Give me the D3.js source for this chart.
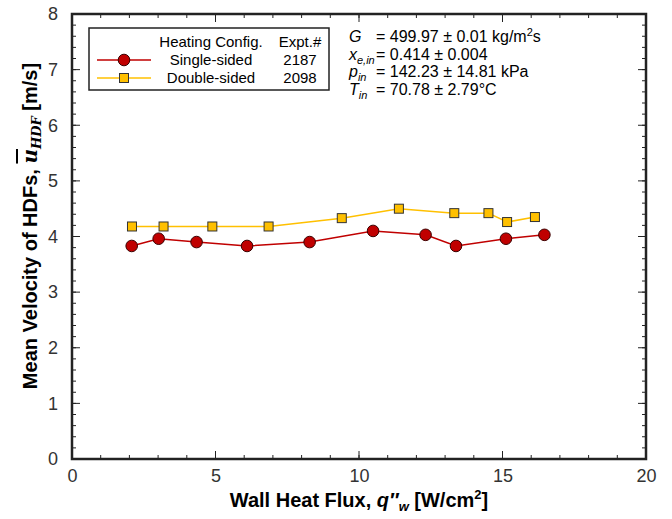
<!DOCTYPE html>
<html>
<head>
<meta charset="utf-8">
<script src="https://cdn.jsdelivr.net/npm/d3@7"></script>
<style>
  body { margin: 0; background: #fff; }
  text { font-family: "Liberation Sans", Arial, sans-serif; }
</style>
</head>
<body>
<div id="chart"></div>
<script>
// data
const singleFlux = [2.08, 3.02, 4.34, 6.10, 8.28, 10.49, 12.32, 13.38, 15.12, 16.46];
const singleVel  = [3.83, 3.96, 3.90, 3.83, 3.90, 4.10, 4.03, 3.83, 3.96, 4.03];
const doubleFlux = [2.09, 3.19, 4.89, 6.85, 9.40, 11.39, 13.32, 14.51, 15.16, 16.13];
const doubleVel  = [4.18, 4.18, 4.18, 4.18, 4.33, 4.50, 4.42, 4.42, 4.26, 4.35];
const xTicks = [0, 5, 10, 15, 20];
const yTicks = [0, 1, 2, 3, 4, 5, 6, 7, 8];
const legendRows = [
  {name: "Single-sided", expt: "2187"},
  {name: "Double-sided", expt: "2098"}
];

const W = 672, H = 519;
const margin = {top: 14, right: 26, bottom: 60, left: 72};
const width = W - margin.left - margin.right;
const height = H - margin.top - margin.bottom;

const svg = d3.select("#chart").append("svg")
    .attr("width", W)
    .attr("height", H);
const g = svg.append("g")
    .attr("transform", `translate(${margin.left},${margin.top})`);

const x = d3.scaleLinear().domain([0, 20]).range([0, width]);
const y = d3.scaleLinear().domain([0, 8]).range([height, 0]);

// minor + major ticks on all four sides, pointing inward
const xMinor = d3.range(0, 20.01, 1);
const yMinor = d3.range(0, 8.001, 0.2);

function tickSet(cls, vals, isX, len) {
  const sel = g.append("g").attr("class", cls).attr("stroke", "#222").attr("stroke-width", 1);
  vals.forEach(v => {
    if (isX) {
      sel.append("line").attr("x1", x(v)).attr("x2", x(v)).attr("y1", height).attr("y2", height - len);
      sel.append("line").attr("x1", x(v)).attr("x2", x(v)).attr("y1", 0).attr("y2", len);
    } else {
      sel.append("line").attr("y1", y(v)).attr("y2", y(v)).attr("x1", 0).attr("x2", len);
      sel.append("line").attr("y1", y(v)).attr("y2", y(v)).attr("x1", width).attr("x2", width - len);
    }
  });
}
tickSet("xminor", xMinor, true, 4);
tickSet("xmajor", xTicks, true, 8);
tickSet("yminor", yMinor, false, 4);
tickSet("ymajor", yTicks, false, 8);

// tick labels via axes (tick lines hidden)
const xAxis = g.append("g")
    .attr("transform", `translate(0,${height})`)
    .call(d3.axisBottom(x).tickValues(xTicks).tickSize(0).tickPadding(10));
const yAxis = g.append("g")
    .call(d3.axisLeft(y).tickValues(yTicks).tickSize(0).tickPadding(14));
[xAxis, yAxis].forEach(a => {
  a.select(".domain").remove();
  a.selectAll("text")
    .style("font-family", "'Liberation Sans Narrow', 'Liberation Sans', Arial, sans-serif")
    .style("font-size", "18px")
    .attr("fill", "#333");
});

// frame
g.append("rect")
    .attr("width", width).attr("height", height)
    .attr("fill", "none").attr("stroke", "#222").attr("stroke-width", 2.5);

// series
const single = singleFlux.map((f, i) => ({x: f, y: singleVel[i]}));
const dbl = doubleFlux.map((f, i) => ({x: f, y: doubleVel[i]}));
const line = d3.line().x(d => x(d.x)).y(d => y(d.y));

g.append("path").datum(dbl)
    .attr("fill", "none").attr("stroke", "#FFC000").attr("stroke-width", 1.5)
    .attr("d", line);
g.append("path").datum(single)
    .attr("fill", "none").attr("stroke", "#C00000").attr("stroke-width", 1.5)
    .attr("d", line);

g.selectAll(".sq").data(dbl).enter().append("rect")
    .attr("class", "sq")
    .attr("x", d => x(d.x) - 4.5).attr("y", d => y(d.y) - 4.5)
    .attr("width", 9).attr("height", 9)
    .attr("fill", "#FFC000").attr("stroke", "#333").attr("stroke-width", 1);
g.selectAll(".dot").data(single).enter().append("circle")
    .attr("class", "dot")
    .attr("cx", d => x(d.x)).attr("cy", d => y(d.y)).attr("r", 5.8)
    .attr("fill", "#C00000").attr("stroke", "#3a0000").attr("stroke-width", 1);

// legend
const lg = svg.append("g").style("font-size", "15px");
lg.append("rect")
    .attr("x", 89).attr("y", 28).attr("width", 240).attr("height", 62)
    .attr("fill", "#fff").attr("stroke", "#222").attr("stroke-width", 1.5);
lg.append("text").attr("x", 211).attr("y", 47).attr("text-anchor", "middle")
    .text("Heating Config.");
lg.append("text").attr("x", 300).attr("y", 47).attr("text-anchor", "middle")
    .text("Expt.#");
const rowY = [60, 78];
const rowColor = ["#C00000", "#FFC000"];
legendRows.forEach((r, i) => {
  const cy = rowY[i];
  lg.append("line").attr("x1", 97).attr("x2", 151).attr("y1", cy).attr("y2", cy)
      .attr("stroke", rowColor[i]).attr("stroke-width", 1.5);
  if (i === 0) {
    lg.append("circle").attr("cx", 124).attr("cy", cy).attr("r", 5.8)
        .attr("fill", "#C00000").attr("stroke", "#3a0000");
  } else {
    lg.append("rect").attr("x", 119.5).attr("y", cy - 4.5).attr("width", 9).attr("height", 9)
        .attr("fill", "#FFC000").attr("stroke", "#333");
  }
  lg.append("text").attr("x", 211).attr("y", cy + 5).attr("text-anchor", "middle")
      .text(r.name);
  lg.append("text").attr("x", 300).attr("y", cy + 5).attr("text-anchor", "middle")
      .text(r.expt);
});

// conditions annotation
const ann = svg.append("g").style("font-size", "16px");
const annRows = [
  {sym: "G", sub: "", val: "= 499.97 ± 0.01 kg/m", sup: "2", tail: "s"},
  {sym: "x", sub: "e,in", val: "= 0.414 ± 0.004"},
  {sym: "p", sub: "in", val: "= 142.23 ± 14.81 kPa"},
  {sym: "T", sub: "in", val: "= 70.78 ± 2.79°C"}
];
const annY = [42, 60, 77, 95];
annRows.forEach((r, i) => {
  const t = ann.append("text").attr("x", 349).attr("y", annY[i]);
  t.append("tspan").style("font-style", "italic").text(r.sym);
  if (r.sub) t.append("tspan").style("font-style", "italic").style("font-size", "11px")
      .attr("dy", 4).text(r.sub);
  ann.append("text").attr("x", 376).attr("y", annY[i]).text(r.val)
    .call(s => { if (r.sup) {
      s.append("tspan").style("font-size", "11px").attr("dy", -6).text(r.sup);
      s.append("tspan").attr("dy", 6).text(r.tail);
    }});
});

// axis titles
const xt = svg.append("text")
    .attr("x", margin.left + width / 2).attr("y", 507)
    .attr("text-anchor", "middle")
    .style("font-size", "20px").style("font-weight", "bold");
xt.append("tspan").text("Wall Heat Flux, ");
xt.append("tspan").style("font-style", "italic").text("q\u2033");
xt.append("tspan").style("font-style", "italic").style("font-size", "13px").attr("dy", 4).text("w");
xt.append("tspan").attr("dy", -4).text(" [W/cm");
xt.append("tspan").style("font-size", "13px").attr("dy", -8).text("2");
xt.append("tspan").attr("dy", 8).text("]");

const yt = svg.append("text")
    .attr("transform", "translate(37,226) rotate(-90)")
    .attr("text-anchor", "middle")
    .style("font-size", "20px").style("font-weight", "bold");
yt.append("tspan").text("Mean Velocity of HDFs, ");
yt.append("tspan").style("font-family", "'DejaVu Serif', serif").style("font-style", "italic")
    .style("text-decoration", "overline").text("u");
yt.append("tspan").style("font-family", "'DejaVu Serif', serif").style("font-style", "italic")
    .style("font-size", "13px").attr("dy", 4).text("HDF");
yt.append("tspan").attr("dy", -4).text(" [m/s]");
</script>
</body>
</html>
